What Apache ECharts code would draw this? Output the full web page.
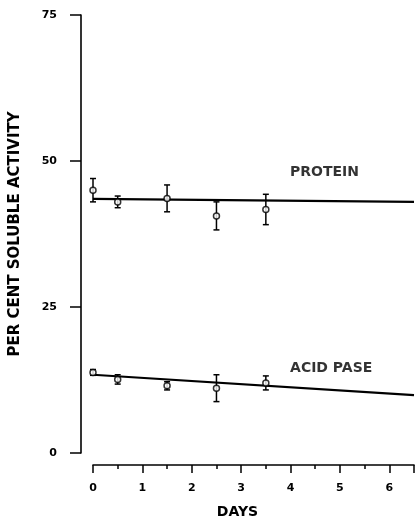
<!DOCTYPE html>
<html>
<head>
<meta charset="utf-8">
<script src="https://cdn.jsdelivr.net/npm/echarts@6/dist/echarts.min.js"></script>
<style>
html,body{margin:0;padding:0;background:#fff;}
#chart{width:417px;height:524px;}
</style>
</head>
<body>
<div id="chart"></div>
<script>
// ---- data ----
const days = [0, 0.5, 1.5, 2.5, 3.5];
const proteinMean = [45.0, 43.0, 43.6, 40.6, 41.7];
const proteinErr = [2.0, 1.0, 2.3, 2.4, 2.6];
const acidMean = [13.8, 12.6, 11.5, 11.1, 12.0];
const acidErr = [0.5, 0.8, 0.7, 2.3, 1.2];
const fitDays = [0, 6.5];
const proteinFit = [43.5, 43.0];
const acidFit = [13.4, 9.9];
const yTicks = [0, 25, 50, 75];
const xTicks = [0, 1, 2, 3, 4, 5, 6];
const seriesLabels = ['PROTEIN', 'ACID PASE'];
const labelPos = [[3.98, 48.1], [3.98, 14.55]];

const FONT = 'DejaVu Sans';
const INK = '#000';

function pts(xs, ys) { return xs.map((x, i) => [x, ys[i]]); }
function errData(xs, m, e) { return xs.map((x, i) => [x, m[i] - e[i], m[i] + e[i]]); }

function errRender(params, api) {
  const x = api.value(0);
  const lo = api.coord([x, api.value(1)]);
  const hi = api.coord([x, api.value(2)]);
  const cap = 3;
  const style = { stroke: INK, lineWidth: 1.5 };
  return {
    type: 'group',
    children: [
      { type: 'line', shape: { x1: lo[0], y1: lo[1], x2: hi[0], y2: hi[1] }, style },
      { type: 'line', shape: { x1: lo[0] - cap, y1: lo[1], x2: lo[0] + cap, y2: lo[1] }, style },
      { type: 'line', shape: { x1: hi[0] - cap, y1: hi[1], x2: hi[0] + cap, y2: hi[1] }, style }
    ]
  };
}

const chart = echarts.init(document.getElementById('chart'), null, { renderer: 'canvas' });

const option = {
  backgroundColor: '#fff',
  animation: false,
  grid: { left: 92, top: 15, height: 438, width: 328 },
  xAxis: {
    type: 'value', min: 0, max: 6.5, interval: 1, offset: 12,
    name: 'DAYS', nameLocation: 'middle', nameGap: 40,
    nameTextStyle: { fontFamily: FONT, fontWeight: 'bold', fontSize: 14, color: INK, padding: [0, 32, 0, 0] },
    axisLine: { show: true, onZero: false, lineStyle: { color: INK, width: 1.6 } },
    axisTick: { show: true, length: 8, inside: false, lineStyle: { color: INK, width: 1.5 } },
    minorTick: { show: true, splitNumber: 2, length: 4, lineStyle: { color: INK, width: 1.5 } },
    splitLine: { show: false },
    axisLabel: {
      margin: 18, fontFamily: FONT, fontWeight: 'bold', fontSize: 11, color: INK,
      formatter: v => (xTicks.indexOf(v) >= 0 ? String(v) : '')
    }
  },
  yAxis: {
    type: 'value', min: 0, max: 75, interval: 25, offset: 12,
    name: 'PER CENT SOLUBLE ACTIVITY', nameLocation: 'middle', nameGap: 58,
    nameTextStyle: { fontFamily: FONT, fontWeight: 'bold', fontSize: 15, color: INK },
    axisLine: { show: true, onZero: false, lineStyle: { color: INK, width: 1.6 } },
    axisTick: { show: true, length: 11, lineStyle: { color: INK, width: 1.5 } },
    splitLine: { show: false },
    axisLabel: {
      margin: 24, fontFamily: FONT, fontWeight: 'bold', fontSize: 11, color: INK,
      formatter: v => (yTicks.indexOf(v) >= 0 ? String(v) : '')
    }
  },
  series: [
    { type: 'line', data: pts(fitDays, proteinFit), symbol: 'none', lineStyle: { color: INK, width: 2.2 }, z: 2 },
    { type: 'line', data: pts(fitDays, acidFit), symbol: 'none', lineStyle: { color: INK, width: 2.2 }, z: 2 },
    { type: 'custom', data: errData(days, proteinMean, proteinErr), renderItem: errRender, z: 3 },
    { type: 'custom', data: errData(days, acidMean, acidErr), renderItem: errRender, z: 3 },
    { type: 'scatter', data: pts(days, proteinMean), symbol: 'circle', symbolSize: 6,
      itemStyle: { color: '#fff', borderColor: INK, borderWidth: 1.5 }, z: 4 },
    { type: 'scatter', data: pts(days, acidMean), symbol: 'circle', symbolSize: 6,
      itemStyle: { color: '#fff', borderColor: INK, borderWidth: 1.5 }, z: 4 },
    { type: 'scatter', symbolSize: 1, silent: true, z: 5,
      itemStyle: { color: 'rgba(0,0,0,0)' },
      data: seriesLabels.map((n, i) => ({ name: n, value: labelPos[i] })),
      label: { show: true, position: 'right', distance: 0,
        formatter: p => p.name, fontFamily: FONT, fontWeight: 'bold', fontSize: 14, color: INK } }
  ]
};
chart.setOption(option);
</script>
</body>
</html>
